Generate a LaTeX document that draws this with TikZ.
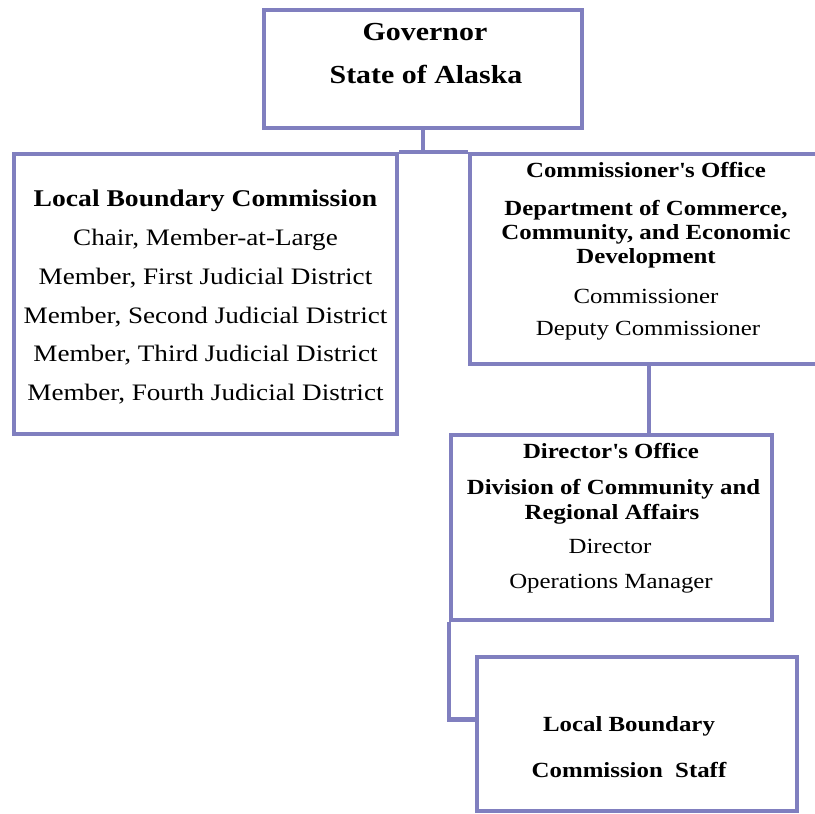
\documentclass[tikz,border=0pt]{standalone}
\usepackage{fontspec}
\setmainfont[FakeStretch=1.15]{Liberation Serif}
\definecolor{orgpurple}{RGB}{128,127,191}
\begin{document}
\begin{tikzpicture}[x=1pt,y=-1pt,
  box/.style={draw=orgpurple, line width=4.5pt, rectangle, inner sep=0pt},
  conn/.style={draw=orgpurple, line width=4.5pt},
  txt/.style={anchor=base, inner sep=0pt},
  fgov/.style={font=\fontsize{26}{30}\selectfont\bfseries},
  flbcb/.style={font=\fontsize{24}{28}\selectfont\bfseries},
  flbc/.style={font=\fontsize{23.6}{28}\selectfont},
  fsmb/.style={font=\fontsize{21.6}{26}\selectfont\bfseries},
  fsm/.style={font=\fontsize{21.6}{26}\selectfont}]
\useasboundingbox[fill=white] (0,0) rectangle (815,814);
% boxes
\node[box, minimum width=318pt, minimum height=118pt] (gov) at (423,69) {};
\node[box, minimum width=383pt, minimum height=280pt] (lbc) at (205.5,294) {};
\node[box, minimum width=350pt, minimum height=210pt] (comm) at (645,259) {};
\node[box, minimum width=321pt, minimum height=185pt] (dir) at (611.5,527.5) {};
\node[box, minimum width=320pt, minimum height=154pt] (staff) at (637,734) {};
% connectors
\draw[conn] (gov.south) -- (gov.south |- lbc.north);
\draw[conn] (lbc.north east) -- (comm.north west);
\draw[conn] ([xshift=181pt]comm.south west) -- ([xshift=200pt]dir.north west);
\draw[conn] (dir.south west) |- ([yshift=94pt]staff.south west);
% governor text
\node[txt, fgov] (g1) at (425,40) {Governor};
\node[txt, fgov] (g2) at (426,83) {State of Alaska};
% LBC text
\node[txt, flbcb] (l1) at (205.5,206.5) {Local Boundary Commission};
\node[txt, flbc] (l2) at (205.5,245.5) {Chair, Member-at-Large};
\node[txt, flbc] (l3) at (205.5,284.5) {Member, First Judicial District};
\node[txt, flbc] (l4) at (205.5,323) {Member, Second Judicial District};
\node[txt, flbc] (l5) at (205.5,361.5) {Member, Third Judicial District};
\node[txt, flbc] (l6) at (205.5,400) {Member, Fourth Judicial District};
% Commissioner text
\node[txt, fsmb] (c1) at (646,177) {Commissioner\textquotesingle s Office};
\node[txt, fsmb] (c2) at (646,215) {Department of Commerce,};
\node[txt, fsmb] (c3) at (646,239) {Community, and Economic};
\node[txt, fsmb] (c4) at (646,263) {Development};
\node[txt, fsm] (c5) at (646,303) {Commissioner};
\node[txt, fsm] (c6) at (648,335) {Deputy Commissioner};
% Director text
\node[txt, fsmb] (d1) at (611,458) {Director\textquotesingle s Office};
\node[txt, fsmb] (d2) at (613.5,494) {Division of Community and};
\node[txt, fsmb] (d3) at (612,519) {Regional Affairs};
\node[txt, fsm] (d4) at (610,553) {Director};
\node[txt, fsm] (d5) at (611,588) {Operations Manager};
% Staff text
\node[txt, fsmb] (s1) at (629,731) {Local Boundary};
\node[txt, fsmb] (s2) at (629,777) {Commission\ \ Staff};
\end{tikzpicture}
\end{document}
